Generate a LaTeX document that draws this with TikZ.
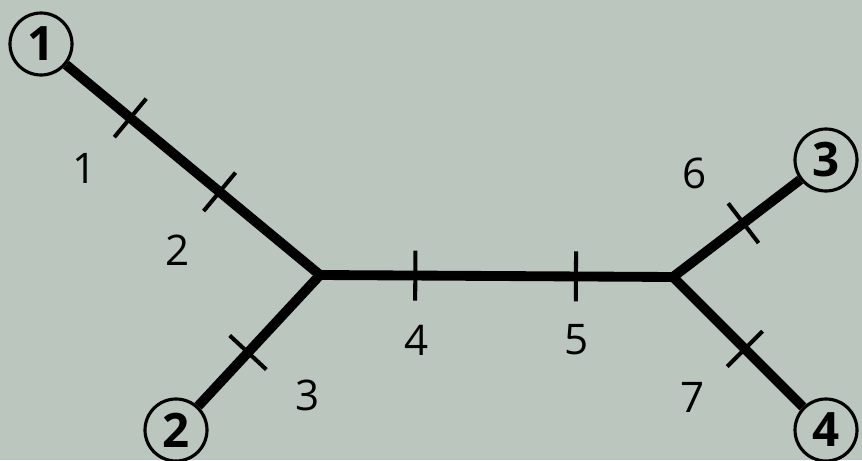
\documentclass[tikz,border=0pt]{standalone}
\usepackage{fontspec}
\setmainfont{Open Sans}
\usepackage{tikz}
\usetikzlibrary{
    calc
}
\definecolor{board}{RGB}{186,198,190}
\newcommand{\TickMark}[4]{%
  \coordinate (TM) at ($(#1)!#3!(#2)$);
  \draw[tick]
    ($(TM)!#4!90:(#2)$) --
    ($(TM)!#4!-90:(#2)$);
}

\begin{document}
\begin{tikzpicture}[x=0.02cm,y=-0.02cm,
  leaf/.style={draw, circle, line width=1.8pt, minimum size=1.24cm,
    inner sep=0pt, font=\fontsize{27}{30}\selectfont\bfseries},
  branch/.style={line width=5.6pt, line join=miter},
  tick/.style={line width=2.3pt},
  num/.style={font=\fontsize{24}{28}\selectfont}]
  \fill[board] (0,0) rectangle (862,460);
  \useasboundingbox (0,0) rectangle (862,460);

  \coordinate (L) at (320,275);
  \coordinate (R) at (673,277);

  \node[leaf] (n1) at (41,44) {1};
  \node[leaf] (n2) at (176,430) {2};
  \node[leaf] (n3) at (826,160) {3};
  \node[leaf] (n4) at (826,430) {4};

  \draw[branch] (n1) -- (L) -- (R) -- (n3);
  \draw[branch] (n2) -- (L);
  \draw[branch] (R) -- (n4);

  \TickMark{n1}{L}{0.32}{0.5cm}
  \TickMark{n1}{L}{0.64}{0.5cm}
  \TickMark{n2}{L}{0.5}{0.5cm}
  \TickMark{L}{R}{0.27}{0.5cm}
  \TickMark{L}{R}{0.725}{0.5cm}
  \TickMark{R}{n3}{0.46}{0.5cm}
  \TickMark{R}{n4}{0.47}{0.5cm}

  \node[num] (w1) at (85,168) {1};
  \node[num] (w2) at (178,250) {2};
  \node[num] (w3) at (308,395) {3};
  \node[num] (w4) at (417,340) {4};
  \node[num] (w5) at (577,340) {5};
  \node[num] (w6) at (695,173) {6};
  \node[num] (w7) at (693,397) {7};
\end{tikzpicture}
\end{document}
